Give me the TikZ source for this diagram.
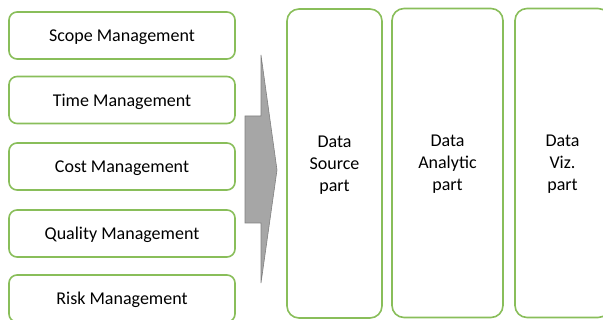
\documentclass[tikz,border=0pt]{standalone}
\usepackage{fontspec}
\setmainfont{Carlito}
\usepackage{tikz}

\definecolor{boxgreen}{RGB}{137,190,90}
\definecolor{arrowgray}{RGB}{166,166,166}
\definecolor{arrowedge}{RGB}{128,128,128}

\tikzset{
  areabox/.style={draw=boxgreen, line width=1.6pt, rounded corners=8pt, fill=white,
    minimum width=226pt, minimum height=47pt, inner sep=0pt, text depth=0pt,
    font=\fontsize{18}{22}\selectfont},
  partbox/.style={draw=boxgreen, line width=1.6pt, rounded corners=12pt, fill=white,
    minimum height=309pt, inner sep=0pt, align=center, text depth=0pt,
    font=\fontsize{18}{22}\selectfont}
}

\begin{document}
\begin{tikzpicture}[x=1pt,y=-1pt]
\useasboundingbox (0,0) rectangle (603,320);
% management areas
\node[areabox] (scope) at (122,35.5) {Scope Management};
\node[areabox] (time) at (122,100) {Time Management};
\node[areabox] (cost) at (122,166.5) {Cost Management};
\node[areabox] (quality) at (122,233.5) {Quality Management};
\node[areabox] (risk) at (122,298.5) {Risk Management};
% big arrow
\draw[fill=arrowgray, draw=arrowedge, line width=0.6pt]
  (245,116) -- (261,116) -- (261,55) -- (277,170) -- (261,283) -- (261,223) -- (245,223) -- cycle;
% parts
\node[partbox, minimum width=95pt] (source) at (334.5,163.5) {Data\\Source\\part};
\node[partbox, minimum width=111pt] (analytic) at (447.5,163) {Data\\Analytic\\part};
\node[partbox, minimum width=95pt] (viz) at (562.5,163) {Data\\Viz.\\part};
\end{tikzpicture}
\end{document}
